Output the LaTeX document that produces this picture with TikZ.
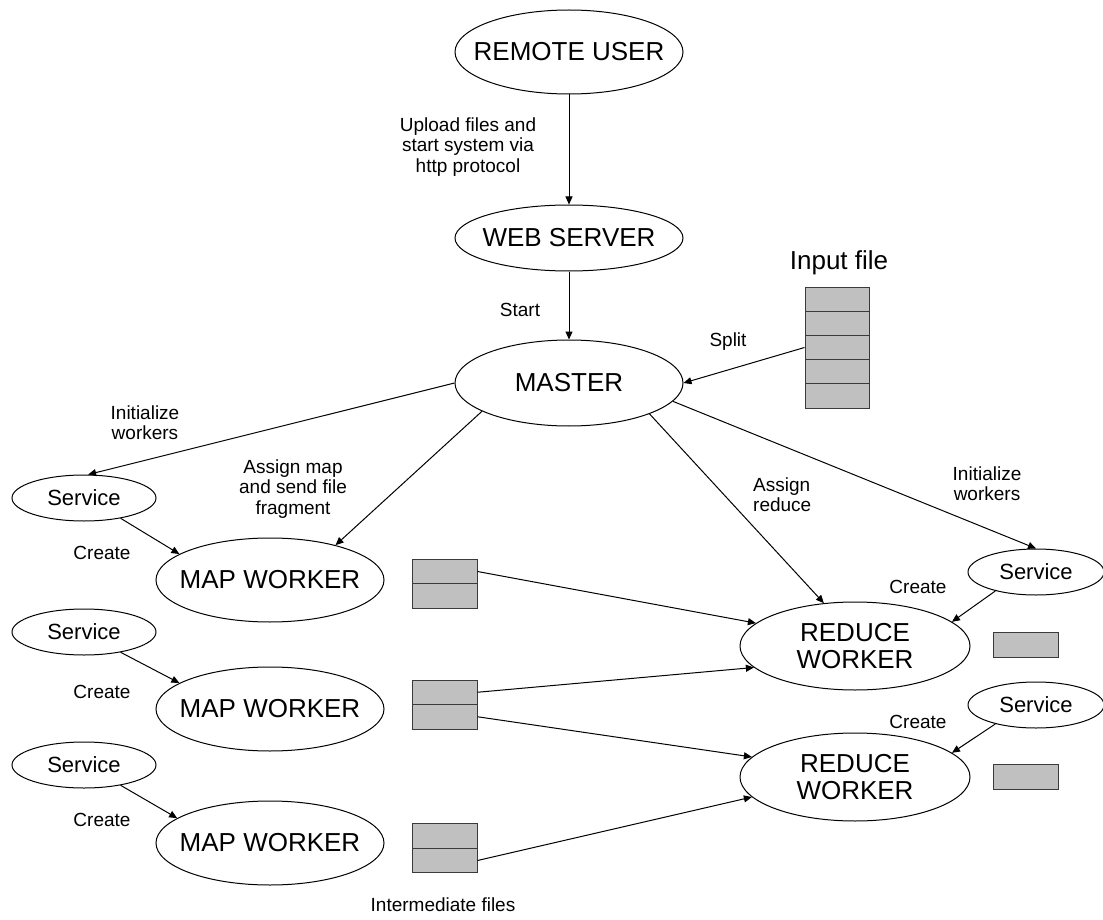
\documentclass[tikz,border=0pt]{standalone}
\usepackage{fontspec}
\setmainfont{Liberation Sans}
\usetikzlibrary{arrows.meta,shapes.geometric}
\definecolor{boxfill}{HTML}{C0C0C0}
\definecolor{boxline}{HTML}{3A3A3A}
\newcommand{\zw}[1]{\makebox[0pt][c]{#1}}
\begin{document}
\begin{tikzpicture}[x=1pt,y=-1pt,
  every node/.style={inner sep=0pt},
  ell/.style={draw, ellipse, line width=1pt, minimum width=228pt, minimum height=84pt,
              font=\fontsize{26}{27}\selectfont, align=center},
  svc/.style={draw, ellipse, line width=1pt, minimum width=144pt, minimum height=46pt,
              font=\fontsize{22}{24}\selectfont},
  svcr/.style={svc, minimum width=136pt},
  lbl/.style={font=\fontsize{19}{20.5}\selectfont, align=center},
  cell/.style={draw=boxline, fill=boxfill, line width=1pt, minimum width=65pt, minimum height=24.5pt},
  arr/.style={line width=1pt, -{Triangle[length=8pt,width=7pt]}}]

\fill[white] (0,0) rectangle (1103,920);
\useasboundingbox (0,0) rectangle (1103,920);

% main ellipses
\node[ell, minimum height=84pt] (ru) at (569,52) {\zw{REMOTE USER}};
\node[ell, minimum height=66pt] (ws) at (569,238) {\zw{WEB SERVER}};
\node[ell, minimum height=86pt] (ma) at (569,383) {\zw{MASTER}};
\node[ell] (mw1) at (270,580) {\zw{MAP WORKER}};
\node[ell] (mw2) at (270,709) {\zw{MAP WORKER}};
\node[ell] (mw3) at (270,843) {\zw{MAP WORKER}};
\node[ell, minimum width=230pt, minimum height=88pt] (rd1) at (855,646) {\zw{REDUCE}\\\zw{WORKER}};
\node[ell, minimum width=230pt, minimum height=88pt] (rd2) at (855,777) {\zw{REDUCE}\\\zw{WORKER}};

% service ellipses
\node[svc] (svl1) at (84,498) {Service};
\node[svc] (svl2) at (84,632) {Service};
\node[svc] (svl3) at (84,765) {Service};
\node[svcr] (svr1) at (1036,572) {Service};
\node[svcr] (svr2) at (1036,705) {Service};

% input file
\node[cell, minimum width=64pt, minimum height=24.2pt] (in1) at (837,299.1) {};
\node[cell, minimum width=64pt, minimum height=24.2pt] (in2) at (837,323.3) {};
\node[cell, minimum width=64pt, minimum height=24.2pt] (in3) at (837,347.5) {};
\node[cell, minimum width=64pt, minimum height=24.2pt] (in4) at (837,371.7) {};
\node[cell, minimum width=64pt, minimum height=24.2pt] (in5) at (837,395.9) {};

% intermediate files
\node[cell] (b1a) at (444.5,571.5) {};
\node[cell] (b1b) at (444.5,596) {};
\node[cell] (b2a) at (444.5,692.25) {};
\node[cell] (b2b) at (444.5,716.75) {};
\node[cell] (b3a) at (444.5,836) {};
\node[cell] (b3b) at (444.5,860.5) {};
\node[cell, minimum height=25pt] (r1) at (1025.5,644.5) {};
\node[cell, minimum height=25pt] (r2) at (1025.5,777) {};

% labels
\node[lbl] (lupload) at (468,147) {Upload files and\\start system via\\http protocol};
\node[lbl] (lstart) at (520,310) {Start};
\node[lbl] (lsplit) at (728,342) {Split};
\node[font=\fontsize{26}{28}\selectfont] (linput) at (839,263) {Input file};
\node[lbl] (linitl) at (145,422.5) {Initialize\\workers};
\node[lbl] (lamap) at (293,489) {Assign map\\and send file\\fragment};
\node[lbl] (lcr1) at (102,553) {Create};
\node[lbl] (lcr2) at (102,692) {Create};
\node[lbl] (lcr3) at (102,820) {Create};
\node[lbl, align=left, anchor=west] (lared) at (753,494.5) {Assign\\reduce};
\node[lbl] (linitr) at (987,483.5) {Initialize\\workers};
\node[lbl] (lcrr1) at (918,587) {Create};
\node[lbl] (lcrr2) at (918,722) {Create};
\node[lbl] (linter) at (443,905) {Intermediate files};

% connectors
\draw[arr] (ru.south) -- (ws.north);
\draw[arr] (ws.south) -- (ma.north);
\draw[arr] (in3.west) -- (ma.east);
\draw[arr] (ma.west) -- (svl1.80);
\draw[arr] (ma.198.6) -- (mw1.28);
\draw[arr] (svl1.331) -- (mw1.164);
\draw[arr] (svl2.331) -- (mw2.164);
\draw[arr] (svl3.331) -- (mw3.165);
\draw[arr] (ma.339) -- (rd1.126);
\draw[arr] (ma.350) -- (svr1.north);
\draw[arr] (svr1.205) -- (rd1.14);
\draw[arr] (svr2.205) -- (rd2.14);
\draw[arr] (b1a.east) -- (rd1.167);
\draw[arr] (b2a.east) -- (rd1.192);
\draw[arr] (b2b.east) -- (rd2.169);
\draw[arr] (b3b.east) -- (rd2.191);
\end{tikzpicture}
\end{document}
